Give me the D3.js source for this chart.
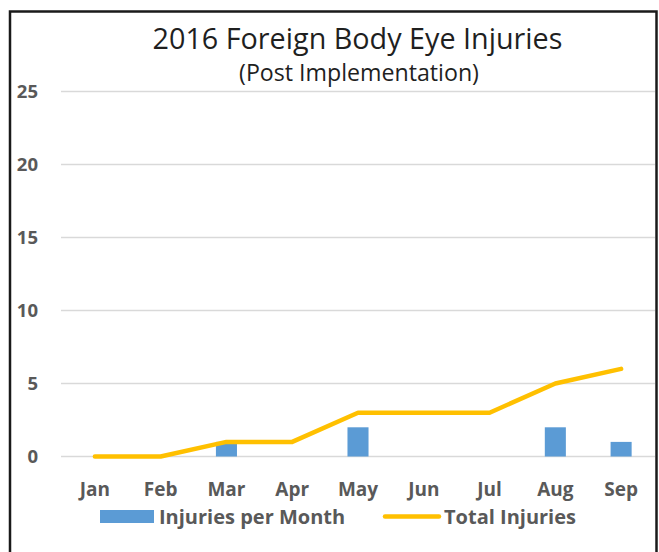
<!DOCTYPE html>
<html>
<head>
<meta charset="utf-8">
<script src="https://cdn.jsdelivr.net/npm/d3@7"></script>
<style>
  html, body { margin: 0; padding: 0; background: #fff; }
  svg { display: block; }
</style>
</head>
<body>
<svg id="chart" width="659" height="552"></svg>
<script>
const months = ["Jan", "Feb", "Mar", "Apr", "May", "Jun", "Jul", "Aug", "Sep"];
const injuriesPerMonth = [0, 0, 1, 0, 2, 0, 0, 2, 1];
const totalInjuries = [0, 0, 1, 1, 3, 3, 3, 5, 6];
const yTicks = [0, 5, 10, 15, 20, 25];
const titleText = "2016 Foreign Body Eye Injuries";
const subtitleText = "(Post Implementation)";
const seriesNames = ["Injuries per Month", "Total Injuries"];

const svg = d3.select("#chart");
const W = 659, H = 552;
svg.append("rect").attr("width", W).attr("height", H).attr("fill", "#fff");

// outer border
svg.append("rect")
  .attr("x", 10).attr("y", 11.5).attr("width", 646.5).attr("height", 560)
  .attr("fill", "none").attr("stroke", "#1a1a1a").attr("stroke-width", 2.5);

const x = d3.scaleBand().domain(months).range([62, 654]).padding(0);
const y = d3.scaleLinear().domain([0, 25]).range([456.5, 91.5]);
const cx = d => x(d) + x.bandwidth() / 2;

// gridlines
svg.append("g").selectAll("line").data(yTicks).join("line")
  .attr("x1", 61).attr("x2", 655)
  .attr("y1", d => y(d)).attr("y2", d => y(d))
  .attr("stroke", "#d9d9d9").attr("stroke-width", 1.5);

// y axis labels
const yAxis = d3.axisLeft(y).tickValues(yTicks).tickSize(0).tickPadding(0);
const yg = svg.append("g").attr("transform", "translate(38,0)").call(yAxis);
yg.select(".domain").remove();
yg.selectAll("text")
  .attr("font-family", "'Open Sans', sans-serif").attr("font-weight", 700)
  .attr("font-size", 18.5).attr("fill", "#595959").attr("dy", "0.35em");

// x axis labels
const xAxis = d3.axisBottom(x).tickSize(0).tickPadding(0);
const xg = svg.append("g").attr("transform", "translate(0,496)").call(xAxis);
xg.select(".domain").remove();
xg.selectAll("text")
  .attr("font-family", "'Open Sans', sans-serif").attr("font-weight", 700)
  .attr("font-size", 19).attr("fill", "#595959").attr("dy", 0).attr("y", 0);

// bars
const barW = x.bandwidth() * 0.32;
svg.append("g").selectAll("rect").data(months.map((m, i) => ({ m, v: injuriesPerMonth[i] })).filter(d => d.v > 0))
  .join("rect")
  .attr("x", d => cx(d.m) - barW / 2)
  .attr("y", d => y(d.v))
  .attr("width", barW)
  .attr("height", d => y(0) - y(d.v))
  .attr("fill", "#5b9bd5");

// line
const line = d3.line().x((d, i) => cx(months[i])).y(d => y(d));
svg.append("path").datum(totalInjuries)
  .attr("d", line)
  .attr("fill", "none").attr("stroke", "#ffc000").attr("stroke-width", 4.5)
  .attr("stroke-linejoin", "round").attr("stroke-linecap", "round");

// title (font size fitted to the reference's text width)
function fitText(sel, targetW, baseSize) {
  sel.attr("font-size", baseSize);
  const w = sel.node().getComputedTextLength();
  if (w > 0) sel.attr("font-size", baseSize * targetW / w);
}
const t1 = svg.append("text").attr("x", 357.5).attr("y", 48.5).attr("text-anchor", "middle")
  .attr("font-family", "'Open Sans', sans-serif").attr("font-weight", 500).attr("fill", "#1f1f1f")
  .text(titleText);
fitText(t1, 410, 25);
const t2 = svg.append("text").attr("x", 359).attr("y", 80.5).attr("text-anchor", "middle")
  .attr("font-family", "'Open Sans', sans-serif").attr("font-weight", 500).attr("fill", "#1f1f1f")
  .text(subtitleText);
fitText(t2, 240, 20);

// legend
const lg = svg.append("g");
lg.append("rect").attr("x", 100).attr("y", 510).attr("width", 54).attr("height", 13).attr("fill", "#5b9bd5");
lg.append("text").attr("x", 159).attr("y", 523.5)
  .attr("font-family", "'Open Sans', sans-serif").attr("font-weight", 700)
  .attr("font-size", 20).attr("fill", "#595959").text(seriesNames[0]);
lg.append("line").attr("x1", 385).attr("x2", 439).attr("y1", 516.5).attr("y2", 516.5)
  .attr("stroke", "#ffc000").attr("stroke-width", 4.5).attr("stroke-linecap", "round");
lg.append("text").attr("x", 444).attr("y", 523.5)
  .attr("font-family", "'Open Sans', sans-serif").attr("font-weight", 700)
  .attr("font-size", 20).attr("fill", "#595959").text(seriesNames[1]);
</script>
</body>
</html>
